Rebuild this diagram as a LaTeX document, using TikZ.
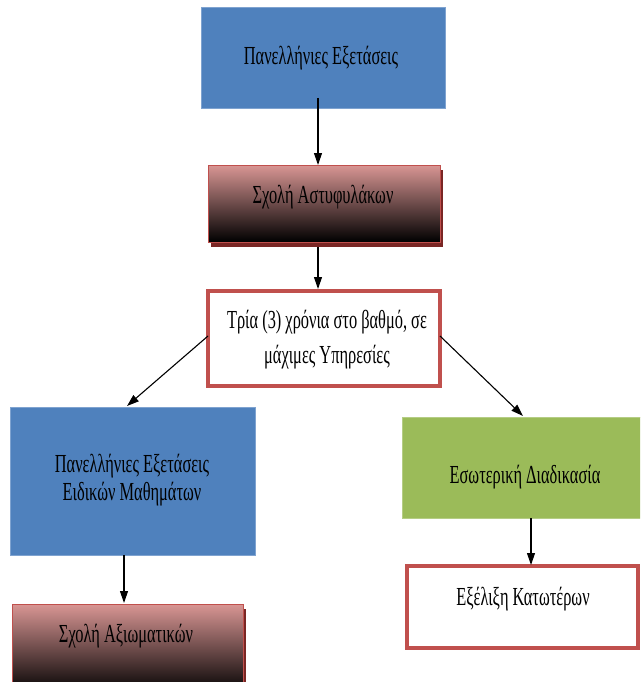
\documentclass[tikz,border=0pt]{standalone}
\usepackage{fontspec}
\setmainfont{Liberation Serif}[FakeStretch=0.63]
\usetikzlibrary{arrows.meta}
\definecolor{bluefill}{HTML}{4F81BD}
\definecolor{blueedge}{HTML}{7FA3D0}
\definecolor{greenfill}{HTML}{9BBB59}
\definecolor{greenedge}{HTML}{B5CD85}
\definecolor{redc}{HTML}{C0504D}
\definecolor{pinkc}{HTML}{D99694}
\definecolor{shadowc}{HTML}{7A2624}
\tikzset{
  box/.style={rectangle, anchor=north west, inner sep=0pt, outer sep=0pt},
  bluebox/.style={box, draw=blueedge, fill=bluefill, line width=0.8pt},
  greenbox/.style={box, draw=greenedge, fill=greenfill, line width=0.8pt},
  shadebox/.style={box, draw=redc, line width=1pt, top color=pinkc, bottom color=black},
  shadowbox/.style={box, fill=shadowc},
  whitebox/.style={box, draw=redc, fill=white, line width=4pt},
  lbl/.style={anchor=base, inner sep=0pt, align=center, font=\fontsize{26}{35}\selectfont},
  arr/.style={-{Triangle[length=12pt,width=8pt]}, line width=1.1pt, black}
}
\begin{document}
\begin{tikzpicture}[x=1pt,y=-1pt]
\path[use as bounding box] (0,0) rectangle (640,682);
\clip (0,0) rectangle (640,682);
% boxes
\node[bluebox, minimum width=244pt, minimum height=101pt] (b1) at (201,7) {};
\node[shadowbox, minimum width=232pt, minimum height=77pt] (s2) at (211,170) {};
\node[shadebox, minimum width=232pt, minimum height=77pt] (b2) at (208,165) {};
\node[whitebox, minimum width=232pt, minimum height=95pt] (b3) at (208,291) {};
\node[bluebox, minimum width=245pt, minimum height=148pt] (b4) at (10,407) {};
\node[shadowbox, minimum width=231pt, minimum height=90pt] (s5) at (15,609) {};
\node[shadebox, minimum width=231pt, minimum height=90pt] (b5) at (12,604) {};
\node[greenbox, minimum width=245pt, minimum height=101pt] (b6) at (402,417) {};
\node[whitebox, minimum width=231pt, minimum height=82pt] (b7) at (407,566) {};
% texts
\node[lbl] (t1) at (321,65) {Πανελλήνιες Εξετάσεις};
\node[lbl] (t2) at (323,203) {Σχολή Αστυφυλάκων};
\node[lbl] (t3) at (327,363) {Τρία (3) χρόνια στο βαθμό, σε\\μάχιμες Υπηρεσίες};
\node[lbl, font=\fontsize{26}{28}\selectfont] (t4) at (132,500) {Πανελλήνιες Εξετάσεις\\Ειδικών Μαθημάτων};
\node[lbl] (t5) at (126,642) {Σχολή Αξιωματικών};
\node[lbl] (t6) at (525,483) {Εσωτερική Διαδικασία};
\node[lbl] (t7) at (523,605) {Εξέλιξη Κατωτέρων};
% connectors
\coordinate (c1) at (318,98);
\coordinate (c1e) at (318,165);
\draw[arr] (c1) -- (c1e);
\coordinate (c2) at (318,247);
\coordinate (c2e) at (318,289);
\draw[arr] (c2) -- (c2e);
\coordinate (c3) at (208,336);
\coordinate (c3e) at (127,406);
\draw[arr] (c3) -- (c3e);
\coordinate (c4) at (440,336);
\coordinate (c4e) at (523,416);
\draw[arr] (c4) -- (c4e);
\coordinate (c5) at (124,555);
\coordinate (c5e) at (124,603);
\draw[arr] (c5) -- (c5e);
\coordinate (c6) at (531,518);
\coordinate (c6e) at (531,565);
\draw[arr] (c6) -- (c6e);
\end{tikzpicture}
\end{document}
